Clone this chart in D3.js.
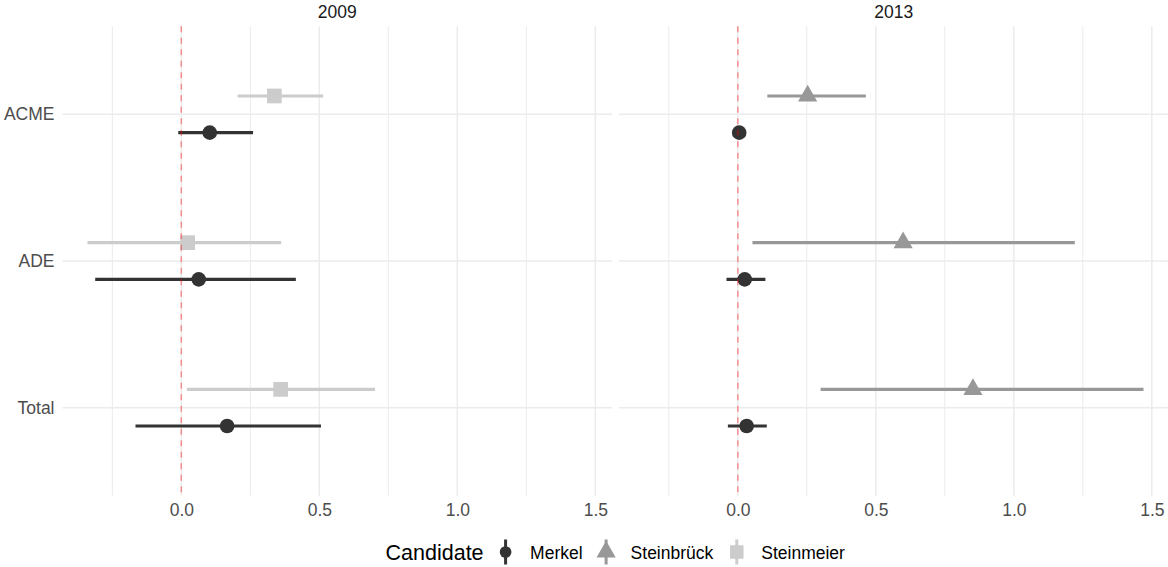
<!DOCTYPE html>
<html>
<head>
<meta charset="utf-8">
<script src="https://cdn.jsdelivr.net/npm/d3@7"></script>
<style>
  html, body { margin: 0; padding: 0; background: #ffffff; }
  svg { display: block; font-family: "Liberation Sans", Arial, Helvetica, sans-serif; }
</style>
</head>
<body>
<svg id="chart" width="1168" height="567"></svg>
<script>
// ---------------- data ----------------
const years = ["2009", "2013"];
const categories = ["ACME", "ADE", "Total"];
const candidates = ["Merkel", "Steinbrück", "Steinmeier"];
const candidateColors = ["#333333", "#989898", "#cccccc"];
const xTickValues = [0, 0.5, 1, 1.5];
const xMinorValues = [-0.25, 0.25, 0.75, 1.25];

const rowYear      = ["2009", "2009", "2009", "2009", "2009", "2009",
                      "2013", "2013", "2013", "2013", "2013", "2013"];
const rowCategory  = ["ACME", "ACME", "ADE", "ADE", "Total", "Total",
                      "ACME", "ACME", "ADE", "ADE", "Total", "Total"];
const rowCandidate = ["Merkel", "Steinmeier", "Merkel", "Steinmeier", "Merkel", "Steinmeier",
                      "Merkel", "Steinbrück", "Merkel", "Steinbrück", "Merkel", "Steinbrück"];
const estimate     = [0.103, 0.337, 0.063, 0.023, 0.166, 0.360,
                      0.005, 0.253, 0.025, 0.599, 0.032, 0.852];
const lower        = [-0.011, 0.204, -0.312, -0.340, -0.166, 0.020,
                      -0.003, 0.107, -0.041, 0.053, -0.036, 0.300];
const upper        = [0.260, 0.514, 0.415, 0.362, 0.506, 0.702,
                      0.013, 0.464, 0.100, 1.221, 0.105, 1.470];

const rows = rowYear.map((y, i) => ({
  year: y, category: rowCategory[i], candidate: rowCandidate[i],
  est: estimate[i], lo: lower[i], hi: upper[i]
}));

// ---------------- layout ----------------
const svg = d3.select("#chart");
const panelTop = 26.3, panelBottom = 495.7;
const panelW = 549.5, panelGap = 7;
const panelLeft0 = 62.5;

const color = d3.scaleOrdinal().domain(candidates).range(candidateColors);

const dataMin = d3.min(lower), dataMax = d3.max(upper);
const pad = (dataMax - dataMin) * 0.05;
const xDomain = [dataMin - pad, dataMax + pad];

const y = d3.scalePoint().domain(categories).range([panelTop, panelBottom]).padding(0.6);
const step = y.step();
const dodge = c => (c === "Merkel" ? 0.125 : -0.125) * step;

const axisFont = 17.5;

function symbolPath(cand, scale) {
  const s = scale || 1;
  if (cand === "Merkel") {
    const r = 7.3 * s;
    return `M${-r},0A${r},${r} 0 1,0 ${r},0A${r},${r} 0 1,0 ${-r},0Z`;
  } else if (cand === "Steinbrück") {
    const hw = 9.6 * s, top = 11.2 * s, base = 5.6 * s;
    return `M0,${-top}L${hw},${base}L${-hw},${base}Z`;
  } else {
    const h = 7.35 * s;
    return `M${-h},${-h}L${h},${-h}L${h},${h}L${-h},${h}Z`;
  }
}

years.forEach((yr, pi) => {
  const left = panelLeft0 + pi * (panelW + panelGap);
  const x = d3.scaleLinear().domain(xDomain).range([left, left + panelW]);
  const g = svg.append("g");

  // minor grid
  g.selectAll("line.minor").data(xMinorValues).enter().append("line")
    .attr("x1", d => x(d)).attr("x2", d => x(d))
    .attr("y1", panelTop).attr("y2", panelBottom)
    .attr("stroke", "#ebebeb").attr("stroke-width", 1);
  // major grid x
  g.selectAll("line.major").data(xTickValues).enter().append("line")
    .attr("x1", d => x(d)).attr("x2", d => x(d))
    .attr("y1", panelTop).attr("y2", panelBottom)
    .attr("stroke", "#ebebeb").attr("stroke-width", 1.5);
  // major grid y
  g.selectAll("line.hmajor").data(categories).enter().append("line")
    .attr("x1", left).attr("x2", left + panelW)
    .attr("y1", d => y(d)).attr("y2", d => y(d))
    .attr("stroke", "#ebebeb").attr("stroke-width", 1.6);

  // strip title
  svg.append("text")
    .attr("x", left + panelW / 2).attr("y", 18.3)
    .attr("text-anchor", "middle")
    .attr("font-size", axisFont).attr("fill", "#1a1a1a")
    .text(yr);

  // x axis
  const xAxis = d3.axisBottom(x).tickValues(xTickValues)
    .tickFormat(d3.format(".1f")).tickSize(0).tickPadding(8);
  const ax = svg.append("g").attr("transform", `translate(0,${panelBottom})`).call(xAxis);
  ax.select(".domain").remove();
  ax.selectAll("text").attr("font-size", axisFont).attr("fill", "#4d4d4d")
    .attr("font-family", "Liberation Sans, Arial, sans-serif");

  // y axis (left panel only)
  if (pi === 0) {
    const yAxis = d3.axisLeft(y).tickSize(0).tickPadding(8);
    const ay = svg.append("g").attr("transform", `translate(${left},0)`).call(yAxis);
    ay.select(".domain").remove();
    ay.selectAll("text").attr("font-size", axisFont).attr("fill", "#4d4d4d")
      .attr("font-family", "Liberation Sans, Arial, sans-serif");
  }

  // point ranges
  const pr = rows.filter(r => r.year === yr);
  const marks = g.selectAll("g.pr").data(pr).enter().append("g");
  marks.append("line")
    .attr("x1", d => x(d.lo)).attr("x2", d => x(d.hi))
    .attr("y1", d => y(d.category) + dodge(d.candidate))
    .attr("y2", d => y(d.category) + dodge(d.candidate))
    .attr("stroke", d => color(d.candidate)).attr("stroke-width", 3.1);
  marks.append("path")
    .attr("transform", d => `translate(${x(d.est)},${y(d.category) + dodge(d.candidate)})`)
    .attr("d", d => symbolPath(d.candidate))
    .attr("fill", d => color(d.candidate));

  // reference line at 0
  g.append("line")
    .attr("x1", x(0)).attr("x2", x(0))
    .attr("y1", panelTop).attr("y2", panelBottom)
    .attr("stroke", "rgba(255,0,0,0.4)").attr("stroke-width", 1.5)
    .attr("stroke-dasharray", "6,5.5");
});

// ---------------- legend ----------------
const legendY = 552;
const leg = svg.append("g");
const title = leg.append("text").attr("y", 560).attr("font-size", 21.5)
  .attr("fill", "#000").text("Candidate");
const titleW = title.node().getComputedTextLength();
const keyW = 22, titleGap = 11, labelGap = 13.5, itemGap = 12.5;
const labels = candidates.map(c => {
  const t = leg.append("text").attr("y", 558.7).attr("font-size", axisFont)
    .attr("fill", "#000").text(c);
  return { c, t, w: t.node().getComputedTextLength() };
});
const totalW = titleW + titleGap + d3.sum(labels, l => keyW + labelGap + l.w) + itemGap * (labels.length - 1);
const center = (panelLeft0 + 1168) / 2;
let cx = center - totalW / 2;
title.attr("x", cx);
cx += titleW + titleGap;
const legendScale = { "Merkel": 0.8, "Steinbrück": 1.0, "Steinmeier": 0.92 };
labels.forEach((l, i) => {
  const kc = cx + keyW / 2;
  leg.append("line").attr("x1", kc).attr("x2", kc)
    .attr("y1", legendY - 12.5).attr("y2", legendY + 12.5)
    .attr("stroke", color(l.c)).attr("stroke-width", 3);
  leg.append("path").attr("transform", `translate(${kc},${legendY})`)
    .attr("d", symbolPath(l.c, legendScale[l.c])).attr("fill", color(l.c));
  l.t.attr("x", cx + keyW + labelGap);
  cx += keyW + labelGap + l.w + itemGap;
});
</script>
</body>
</html>
